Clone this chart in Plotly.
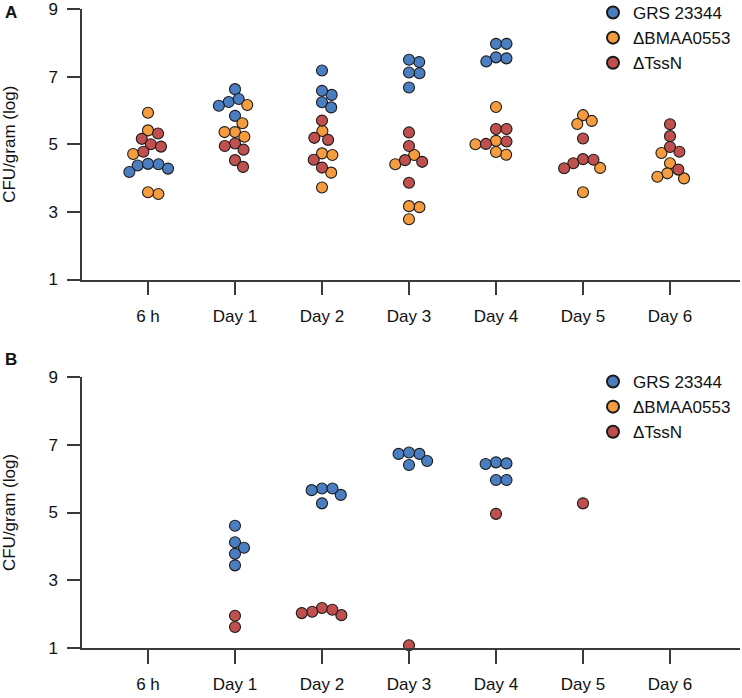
import math
import plotly.graph_objects as go

categories = ["6 h", "Day 1", "Day 2", "Day 3", "Day 4", "Day 5", "Day 6"]
series_names = ["GRS 23344", "ΔBMAA0553", "ΔTssN"]
series_colors = ["#4a7ec0", "#f59c3e", "#c0504d"]
y_ticks = [1, 3, 5, 7, 9]

# Panel A: values per category (6 h ... Day 6)
a_grs = [[4.41, 4.37, 4.18, 4.28, 4.42],
         [6.63, 6.25, 6.14, 6.34, 5.84],
         [7.18, 6.46, 6.58, 6.24, 6.09],
         [7.43, 7.50, 7.10, 7.12, 6.68],
         [7.97, 7.97, 7.57, 7.45, 7.54],
         [],
         []]
a_bmaa = [[5.93, 5.41, 4.71, 3.53, 3.58],
          [6.16, 5.62, 5.36, 5.36, 5.22],
          [5.39, 4.73, 4.68, 4.16, 3.72],
          [4.41, 4.68, 3.14, 3.17, 2.78],
          [6.10, 5.10, 5.00, 4.69, 4.77],
          [5.86, 5.60, 5.69, 4.30, 3.58],
          [4.74, 4.44, 4.14, 3.99, 4.04]]
a_tssn = [[5.32, 5.16, 5.00, 4.93, 4.78],
          [5.02, 4.95, 4.84, 4.53, 4.33],
          [5.70, 5.13, 5.19, 4.54, 4.31],
          [5.35, 4.95, 4.53, 4.48, 3.86],
          [5.45, 5.45, 5.01, 5.08],
          [5.17, 4.56, 4.44, 4.29, 4.54],
          [5.59, 5.24, 4.78, 4.92, 4.25]]

# Panel B
b_grs = [[],
         [4.61, 4.12, 3.96, 3.78, 3.44],
         [5.71, 5.66, 5.52, 5.71, 5.27],
         [6.73, 6.73, 6.40, 6.52, 6.77],
         [6.48, 6.43, 6.45, 5.96, 5.96],
         [],
         []]
b_bmaa = [[], [], [], [], [], [], []]
b_tssn = [[],
          [1.95, 1.62],
          [2.18, 2.07, 1.97, 2.03, 2.13],
          [1.08],
          [4.96],
          [5.27],
          []]

# ---- layout geometry (pixels) ----
W, H = 742, 698
ML, MR, MT, MB = 82, 2, 9, 50
plot_w = W - ML - MR
plot_h = H - MT - MB
x_range = [-0.7586, 6.8046]
px_per_x = plot_w / (x_range[1] - x_range[0])
px_per_y = 33.85
D_PX = 10.5  # collision diameter in px for swarm layout


def swarm_offsets(values):
    """Greedy beeswarm: returns horizontal offsets in px."""
    placed = []
    out = [0.0] * len(values)
    order = sorted(range(len(values)), key=lambda i: -values[i])
    for i in order:
        y = values[i] * px_per_y
        cands = [0.0]
        for px, py in placed:
            dy = abs(py - y)
            if dy < D_PX:
                dx = math.sqrt(D_PX ** 2 - dy ** 2)
                cands += [px + dx, px - dx]
        cands.sort(key=lambda c: (round(abs(c), 6), -c))
        chosen = 0.0
        for c in cands:
            if all((c - px) ** 2 + (y - py) ** 2 >= D_PX ** 2 - 1e-6 for px, py in placed):
                chosen = c
                break
        placed.append((chosen, y))
        out[i] = chosen
    return out


def build_panel(series_lists):
    """Return per-series x and y lists with swarm offsets computed per category."""
    xs = [[] for _ in series_lists]
    ys = [[] for _ in series_lists]
    for ci in range(len(categories)):
        vals, owners = [], []
        for si, s in enumerate(series_lists):
            for v in s[ci]:
                vals.append(v)
                owners.append(si)
        offs = swarm_offsets(vals)
        for v, si, o in zip(vals, owners, offs):
            xs[si].append(ci + o / px_per_x)
            ys[si].append(v)
    return xs, ys


fig = go.Figure()
panels = [([a_grs, a_bmaa, a_tssn], "x", "y", "legend"),
          ([b_grs, b_bmaa, b_tssn], "x2", "y2", "legend2")]
for series_lists, xa, ya, lg in panels:
    xs, ys = build_panel(series_lists)
    for si in range(3):
        x_vals, y_vals = xs[si], ys[si]
        if not x_vals:  # keep legend entry for a series with no surviving counts
            x_vals, y_vals = [None], [None]
        fig.add_trace(go.Scatter(
            x=x_vals, y=y_vals, mode="markers", name=series_names[si],
            xaxis=xa, yaxis=ya, legend=lg, cliponaxis=False,
            marker=dict(size=11, color=series_colors[si],
                        line=dict(color="#1a1a1a", width=1.1)),
        ))

font_main = dict(family="Liberation Sans, Arial, sans-serif", size=17, color="#111111")


def py_frac(px):
    return (H - MB - px) / plot_h


axis_common = dict(showline=True, linecolor="#3a3a3a", linewidth=1.5,
                   ticks="outside", tickcolor="#3a3a3a", tickwidth=1.5,
                   showgrid=False, zeroline=False, tickfont=font_main,
                   ticklabeloverflow="allow")

fig.update_layout(
    width=W, height=H,
    margin=dict(l=ML, r=MR, t=MT, b=MB, autoexpand=False),
    plot_bgcolor="white", paper_bgcolor="white",
    font=font_main,
    xaxis=dict(domain=[0, 1], anchor="y", range=x_range,
               tickvals=list(range(len(categories))), ticktext=categories,
               ticklen=14, ticklabelstandoff=6, **axis_common),
    yaxis=dict(domain=[py_frac(279.5), 1], anchor="x", range=[1, 9],
               tickvals=y_ticks, ticklen=13, ticklabelstandoff=6,
               title=dict(text="CFU/gram (log)", font=font_main, standoff=28),
               **axis_common),
    xaxis2=dict(domain=[0, 1], anchor="y2", range=x_range,
                tickvals=list(range(len(categories))), ticktext=categories,
                ticklen=14, ticklabelstandoff=6, **axis_common),
    yaxis2=dict(domain=[0, py_frac(377)], anchor="x2", range=[1, 9],
                tickvals=y_ticks, ticklen=13, ticklabelstandoff=6,
                title=dict(text="CFU/gram (log)", font=font_main, standoff=28),
                **axis_common),
    legend=dict(x=(593 - ML) / plot_w, y=py_frac(-5), xanchor="left", yanchor="top",
                bgcolor="rgba(0,0,0,0)", font=font_main, tracegroupgap=0,
                itemsizing="constant"),
    legend2=dict(x=(593 - ML) / plot_w, y=py_frac(364), xanchor="left", yanchor="top",
                 bgcolor="rgba(0,0,0,0)", font=font_main, tracegroupgap=0,
                 itemsizing="constant"),
    showlegend=True,
)

label_font = dict(family="Liberation Sans, Arial, sans-serif", size=17, color="#111")
for txt, px_y in [("<b>A</b>", 13), ("<b>B</b>", 359)]:
    fig.add_annotation(text=txt, x=(3 - ML) / plot_w, y=py_frac(px_y),
                       xref="paper", yref="paper", showarrow=False,
                       font=label_font, xanchor="left", yanchor="middle")

fig.write_html("out.html", config={"displayModeBar": False},
               post_script="document.body.style.margin='0';")
